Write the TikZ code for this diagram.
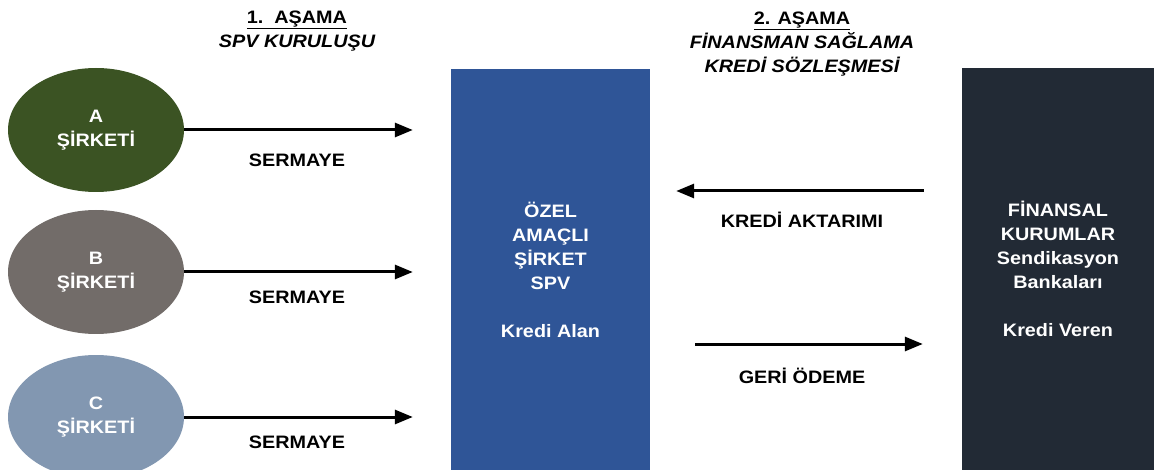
\documentclass[tikz,border=0pt]{standalone}
\usepackage{fontspec}
\setmainfont[FakeStretch=1.1]{Liberation Sans}
\usetikzlibrary{shapes.geometric,arrows.meta}
\definecolor{firmA}{HTML}{3B5323}
\definecolor{firmB}{HTML}{726C69}
\definecolor{firmC}{HTML}{8297B1}
\definecolor{spvblue}{HTML}{2F5597}
\definecolor{bankdark}{HTML}{222A35}
\begin{document}
\begin{tikzpicture}[x=1pt,y=-1pt,
  every node/.style={font=\fontsize{18}{24}\selectfont\bfseries,align=center},
  firm/.style={ellipse,minimum width=176pt,minimum height=124pt,inner sep=0pt,text=white},
  party/.style={minimum height=402pt,inner sep=0pt,text=white},
  flow/.style={line width=3pt,-{Triangle[length=18pt,width=14pt]}}]
\useasboundingbox (0,0) rectangle (1154,470);
\clip (0,0) rectangle (1154,470);
% Titles
\node (stepOne) at (297,31) {\underline{1.\ \ AŞAMA}\\\itshape SPV KURULUŞU};
\node (stepTwo) at (802,44) {\underline{2. AŞAMA}\\\itshape FİNANSMAN SAĞLAMA\\\itshape KREDİ SÖZLEŞMESİ};
% Companies
\foreach \n/\c/\y in {A/firmA/130, B/firmB/272, C/firmC/417} {
  \node[firm,fill=\c] (comp\n) at (96,\y) {\n\\ŞİRKETİ};
}
% SPV and lenders
\node[party,fill=spvblue,minimum width=199pt] (spv) at (550.5,270) {ÖZEL\\AMAÇLI\\ŞİRKET\\SPV\\[24pt]Kredi Alan};
\node[party,fill=bankdark,minimum width=192pt] (bank) at (1058,269) {FİNANSAL\\KURUMLAR\\Sendikasyon\\Bankaları\\[24pt]Kredi Veren};
% Capital flows
\foreach \n in {A,B,C} {
  \draw[flow,shorten >=38pt] (comp\n) -- (comp\n -| spv.west);
}
\node (capA) at (297,160) {SERMAYE};
\node (capB) at (297,297) {SERMAYE};
\node (capC) at (297,442) {SERMAYE};
% Loan flows
\coordinate (loanY) at (0,191);
\coordinate (payY) at (0,344);
\draw[flow,shorten <=38pt,shorten >=26pt] (bank.west |- loanY) -- (spv.east |- loanY);
\draw[flow,shorten <=45pt,shorten >=39pt] (spv.east |- payY) -- (bank.west |- payY);
\node (loan) at (802,220) {KREDİ AKTARIMI};
\node (pay) at (802,376) {GERİ ÖDEME};
\end{tikzpicture}
\end{document}
